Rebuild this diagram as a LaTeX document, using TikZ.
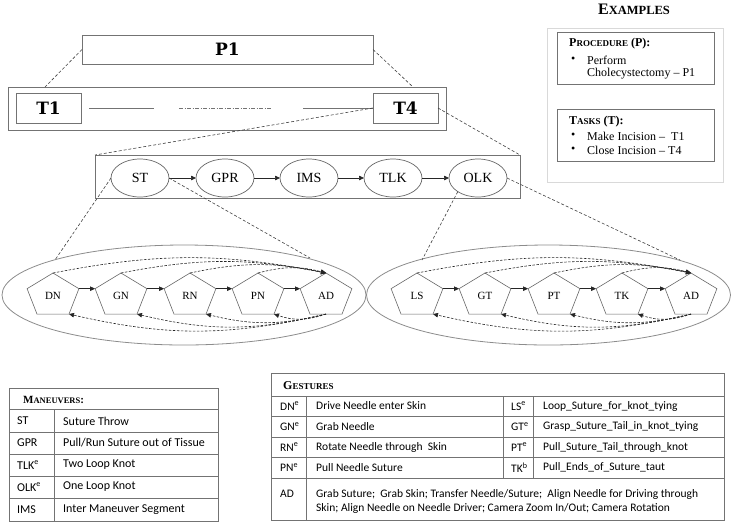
\documentclass[tikz,border=0pt]{standalone}
\usepackage{fontspec}
\usepackage{graphicx}
\setmainfont{Liberation Serif}
\newfontfamily\hdfont{DejaVu Serif}
\newfontfamily\tabfont{Carlito}
\usetikzlibrary{shapes.geometric,arrows.meta,calc}
\newcommand\fsz[1]{\fontsize{#1}{#1}\selectfont}
\newcommand\pl[1]{\scalebox{0.833}[1]{#1}}
\begin{document}
\begin{tikzpicture}[x=1pt,y=-1pt,
  gline/.style={draw=black!55,line width=0.8pt},
  rbox/.style={draw=black!55,line width=0.9pt,inner sep=0pt,outer sep=0pt},
  man/.style={ellipse,draw=black!60,line width=0.7pt,minimum width=58pt,minimum height=38pt,inner sep=0pt,outer sep=0pt,font=\fsz{14}},
  pent/.style={regular polygon,regular polygon sides=5,minimum size=45.4pt,inner sep=0pt,outer sep=0pt,draw=black!60,line width=0.6pt,xscale=1.2,transform shape,font=\fsz{11}},
  gell/.style={ellipse,draw=black!45,line width=0.8pt,minimum width=364pt,minimum height=100pt,inner sep=0pt,outer sep=0pt},
  arr/.style={-{Triangle[length=5pt,width=4.5pt]},line width=0.7pt,draw=black!85},
  darr/.style={-{Triangle[length=5pt,width=4.5pt]},line width=0.6pt,draw=black!85,dash pattern=on 2.5pt off 1.5pt},
  dline/.style={line width=0.6pt,draw=black!75,dash pattern=on 3pt off 2pt},
  lbl/.style={anchor=west,inner sep=0pt},
  tl/.style={anchor=west,inner sep=0pt,font={\tabfont\fsz{12}}},
  tg/.style={anchor=west,inner sep=0pt,font={\tabfont\fsz{11.5}}},
  ex/.style={anchor=west,inner sep=0pt,font={\fsz{12}}},
  big/.style={font={\hdfont\bfseries\fsz{17}}}
]
\useasboundingbox (0,0) rectangle (733,523);

% ---------- procedure / tasks ----------
\node[rbox,minimum width=291pt,minimum height=29pt,big] (P1) at (227.5,49.5) {P1};
\node[rbox,minimum width=438pt,minimum height=43pt] (Tbox) at (227,108.5) {};
\node[rbox,minimum width=65pt,minimum height=30pt,big] (T1) at (48.5,108) {T1};
\node[rbox,minimum width=65pt,minimum height=30pt,big] (T4) at (405.5,108) {T4};
\draw[gline] ($(T1.east)+(8,0)$) -- ++(65,0);
\draw[gline,dash pattern=on 4pt off 1.5pt on 1pt off 1.5pt] ($(T1.east)+(98,0)$) -- ++(93,0);
\draw[gline] ($(T4.west)+(-70,0)$) -- (T4.west);
\coordinate (tp1) at (45,87);
\coordinate (tp2) at (413,87);
\draw[dline] (P1.west) -- (tp1);
\draw[dline] (P1.east) -- (tp2);

% ---------- maneuvers ----------
\node[rbox,minimum width=425pt,minimum height=43pt] (mbox) at (307.5,176.5) {};
\draw[dline] (T4.west) -- (mbox.north west);
\draw[dline] (T4.east) -- (mbox.north east);
\node[man] (ST) at (140,178) {ST};
\node[man] (GPR) at (225,178) {GPR};
\node[man] (IMS) at (309,178) {IMS};
\node[man] (TLK) at (393,178) {TLK};
\node[man] (OLK) at (478,178) {OLK};
\draw[arr] (ST) -- (GPR);
\draw[arr] (GPR) -- (IMS);
\draw[arr] (IMS) -- (TLK);
\draw[arr] (TLK) -- (OLK);

% ---------- gestures ----------
\node[gell] (gL) at (184,295) {};
\node[gell] (gR) at (548.5,295) {};
\coordinate (gl1) at (55,260);
\coordinate (gl2) at (310,258);
\coordinate (gr1) at (422,260);
\coordinate (gr2) at (680,260);
\draw[dline] (ST.west) -- (gl1);
\draw[dline] (ST.east) -- (gl2);
\draw[dline] (OLK.214) -- (gr1);
\draw[dline] (OLK.east) -- (gr2);

\node[pent] (DN) at (53,295.7) {\pl{DN}};
\node[pent] (GN) at (121,295.7) {\pl{GN}};
\node[pent] (RN) at (190,295.7) {\pl{RN}};
\node[pent] (PN) at (258,295.7) {\pl{PN}};
\node[pent] (ADa) at (326,295.7) {\pl{AD}};
\node[pent] (LS) at (417,295.7) {\pl{LS}};
\node[pent] (GT) at (485,295.7) {\pl{GT}};
\node[pent] (PT) at (554,295.7) {\pl{PT}};
\node[pent] (TK) at (622,295.7) {\pl{TK}};
\node[pent] (ADb) at (691,295.7) {\pl{AD}};

\draw[arr] (DN.corner 5) -- (GN.corner 2);
\draw[arr] (GN.corner 5) -- (RN.corner 2);
\draw[arr] (RN.corner 5) -- (PN.corner 2);
\draw[arr] (PN.corner 5) -- (ADa.corner 2);
\draw[arr] (LS.corner 5) -- (GT.corner 2);
\draw[arr] (GT.corner 5) -- (PT.corner 2);
\draw[arr] (PT.corner 5) -- (TK.corner 2);
\draw[arr] (TK.corner 5) -- (ADb.corner 2);

\foreach \n/\b in {DN/11,GN/11,RN/12,PN/15}
  \draw[darr] (\n.corner 1) to[bend left=\b] (ADa.corner 1);
\foreach \n/\b in {DN/13,GN/13.5,RN/14,PN/19}
  \draw[darr] (ADa.south) to[bend left=\b] (\n.corner 4);
\foreach \n/\b in {LS/11,GT/11,PT/12,TK/15}
  \draw[darr] (\n.corner 1) to[bend left=\b] (ADb.corner 1);
\foreach \n/\b in {LS/13,GT/13.5,PT/14,TK/19}
  \draw[darr] (ADb.south) to[bend left=\b] (\n.corner 4);

% ---------- examples ----------
\node[font={\bfseries}] (exT) at (634,9) {{\fsz{16}E}{\fsz{12.5}XAMPLES}};
\node[draw=black!15,line width=0.8pt,minimum width=176pt,minimum height=154pt,inner sep=0pt] (exbox) at (635,105) {};
\node[rbox,minimum width=157pt,minimum height=52pt] (pbox) at (635.5,58) {};
\node[rbox,minimum width=157pt,minimum height=52pt] (tbox) at (635.5,135) {};
\node[ex,font={\bfseries}] (ph) at (569,44) {{\fsz{12}P}{\fsz{9}ROCEDURE}{\fsz{12} (P):}};
\node[ex] (pb1) at (571,60) {•};
\node[ex] (pt1) at (587,60) {Perform};
\node[ex] (pt2) at (587,74) {Cholecystectomy – P1};
\node[ex,font={\bfseries}] (th) at (569,122) {{\fsz{12}T}{\fsz{9}ASKS}{\fsz{12} (T):}};
\node[ex] (tb1) at (571,136) {•};
\node[ex] (tt1) at (587,136) {Make Incision –~ T1};
\node[ex] (tb2) at (571,150) {•};
\node[ex] (tt2) at (587,150) {Close Incision – T4};

% ---------- maneuvers table ----------
\draw[gline] (9,388) rectangle (218,521);
\foreach \y in {409.5,432,454,476,498.5} \draw[gline] (9,\y) -- (218,\y);
\draw[gline] (54,409.5) -- (54,521);
\node[lbl,font={\bfseries}] (mh) at (23,400) {{\fsz{11}M}{\fsz{8.5}ANEUVERS}{\fsz{11}:}};
\node[tl] (m1) at (17,421) {ST};
\node[tl] (m1d) at (63,421) {Suture Throw};
\node[tl] (m2) at (17,443) {GPR};
\node[tl] (m2d) at (63,443) {Pull/Run Suture out of Tissue};
\node[tl] (m3) at (17,465) {TLK\textsuperscript{e}};
\node[tl] (m3d) at (63,465) {Two Loop Knot};
\node[tl] (m4) at (17,487) {OLK\textsuperscript{e}};
\node[tl] (m4d) at (63,487) {One Loop Knot};
\node[tl] (m5) at (17,510) {IMS};
\node[tl] (m5d) at (63,510) {Inter Maneuver Segment};

% ---------- gestures table ----------
\draw[gline] (271,373) rectangle (724,520);
\draw[gline] (271,396) -- (724,396);
\foreach \y in {416,437,457,478} \draw[gline] (271,\y) -- (724,\y);
\draw[gline] (306,396) -- (306,520);
\draw[gline] (503,396) -- (503,478);
\draw[gline] (533,396) -- (533,478);
\node[lbl,font={\bfseries}] (gh) at (283,386) {{\fsz{12}G}{\fsz{9}ESTURES}};
\node[tg] (g1) at (280,406) {DN\textsuperscript{e}};
\node[tg] (g1d) at (316,406) {Drive Needle enter Skin};
\node[tg] (g2) at (280,426.5) {GN\textsuperscript{e}};
\node[tg] (g2d) at (316,426.5) {Grab Needle};
\node[tg] (g3) at (280,447) {RN\textsuperscript{e}};
\node[tg] (g3d) at (316,447) {Rotate Needle through~ Skin};
\node[tg] (g4) at (280,467.5) {PN\textsuperscript{e}};
\node[tg] (g4d) at (316,467.5) {Pull Needle Suture};
\node[tg] (h1) at (511,406) {LS\textsuperscript{e}};
\node[tg] (h1d) at (543,406) {Loop\_Suture\_for\_knot\_tying};
\node[tg] (h2) at (511,426.5) {GT\textsuperscript{e}};
\node[tg] (h2d) at (543,426.5) {Grasp\_Suture\_Tail\_in\_knot\_tying};
\node[tg] (h3) at (511,447) {PT\textsuperscript{e}};
\node[tg] (h3d) at (543,447) {Pull\_Suture\_Tail\_through\_knot};
\node[tg] (h4) at (511,467.5) {TK\textsuperscript{b}};
\node[tg] (h4d) at (543,467.5) {Pull\_Ends\_of\_Suture\_taut};
\node[tg] (g5) at (280,494) {AD};
\node[tg] (g5a) at (316,494) {Grab Suture;~ Grab Skin; Transfer Needle/Suture;~ Align Needle for Driving through};
\node[tg] (g5b) at (316,508) {Skin; Align Needle on Needle Driver; Camera Zoom In/Out; Camera Rotation};
\end{tikzpicture}
\end{document}
